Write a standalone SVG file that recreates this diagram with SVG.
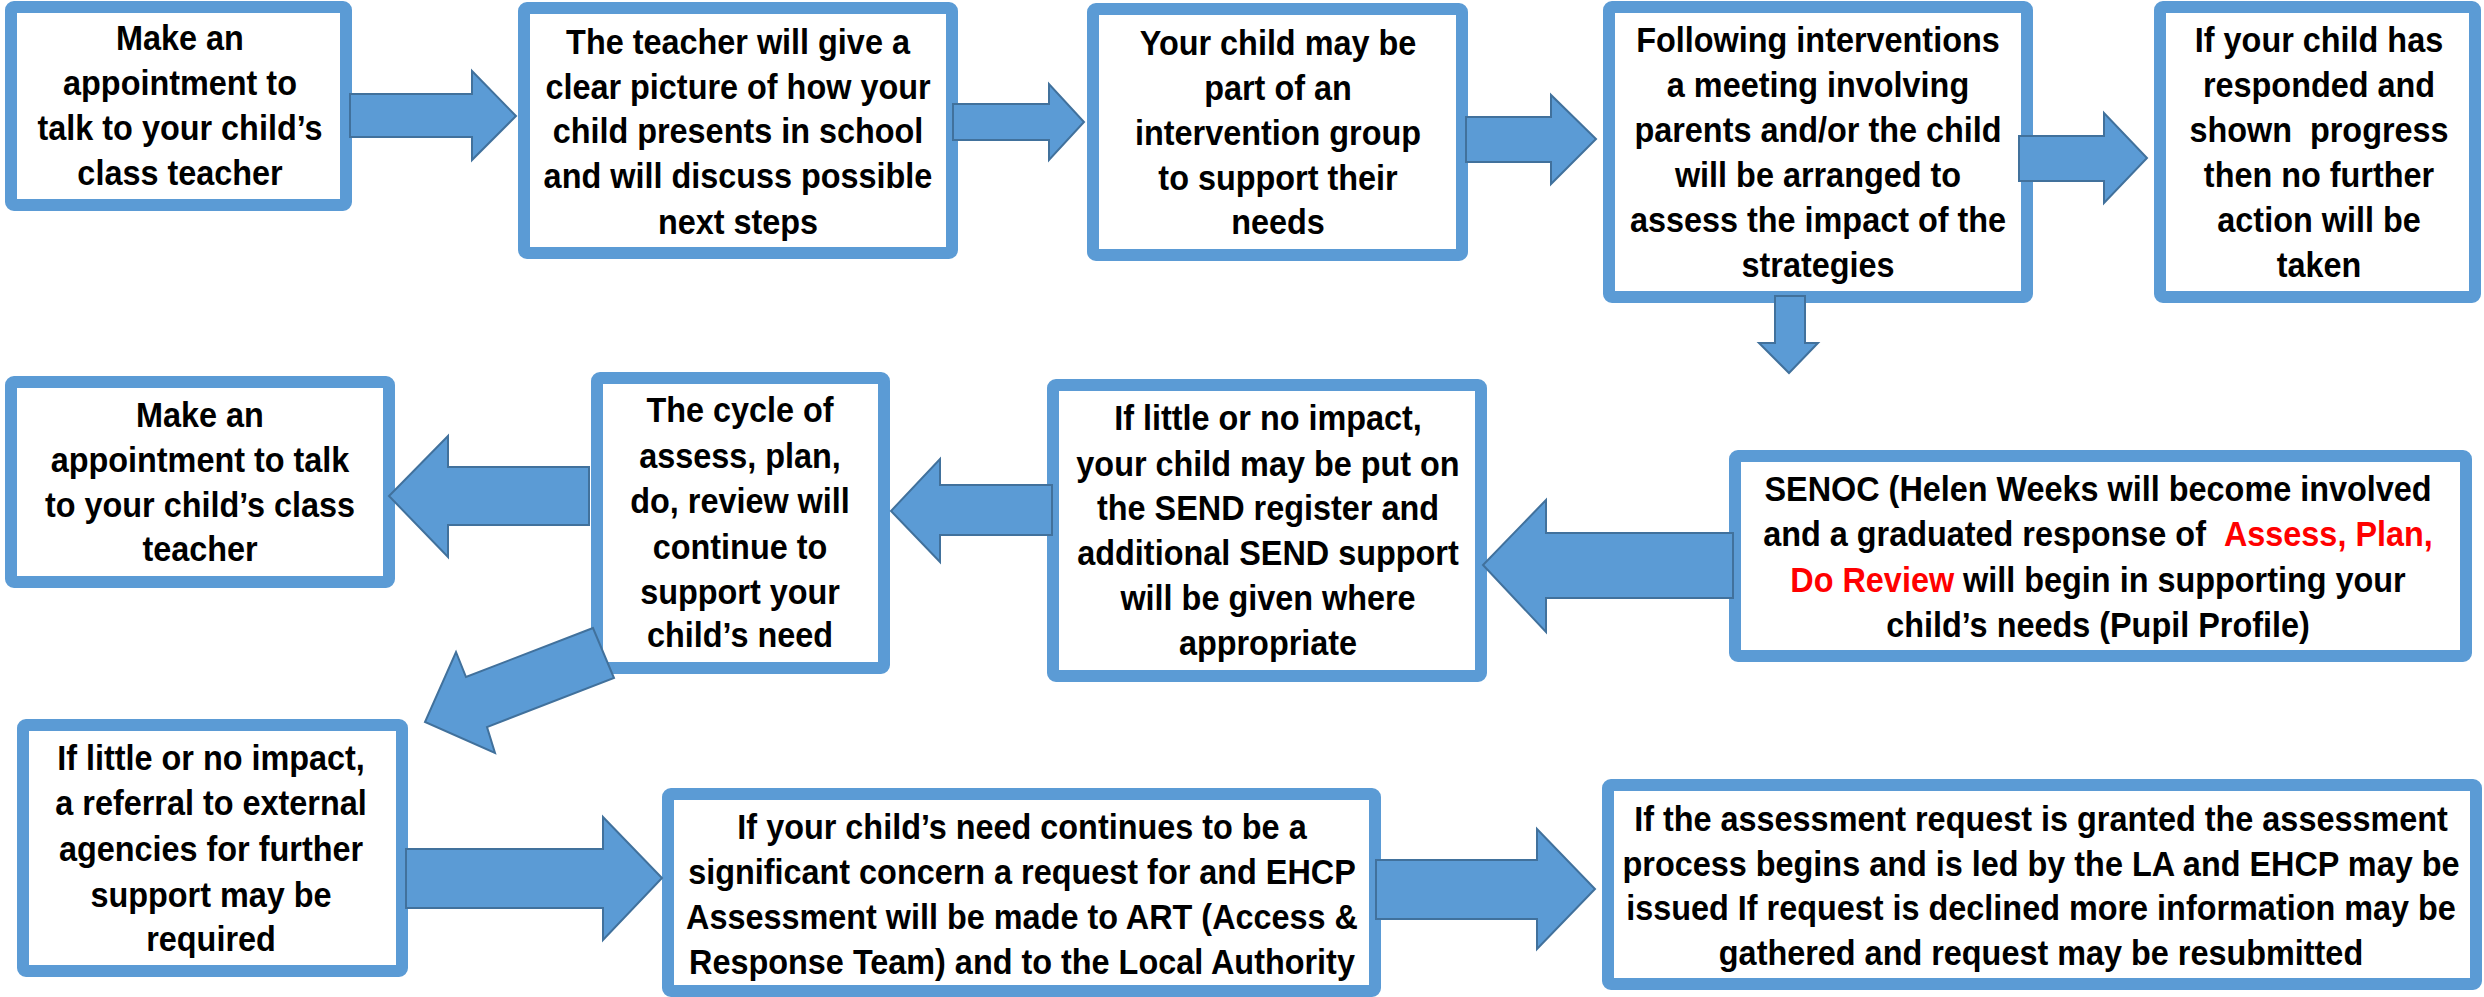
<svg xmlns="http://www.w3.org/2000/svg" width="2484" height="997" viewBox="0 0 2484 997">
<style>
.box{fill:#ffffff;stroke:#5B9BD5;stroke-width:12;}
.arr{fill:#5B9BD5;stroke:#41719C;stroke-width:2;stroke-linejoin:miter;}
.t{font-family:"Liberation Sans",Arial,sans-serif;font-weight:bold;font-size:36px;fill:#000;text-anchor:middle;white-space:pre;}
.red{fill:#FF0000;}
</style>
<rect x="0" y="0" width="2484" height="997" fill="#ffffff"/>
<g id="n1"><rect class="box" x="11" y="7" width="335" height="198" rx="3"/>
<text class="t" transform="translate(180 0) scale(0.9 1)"><tspan x="0" y="50">Make an</tspan><tspan x="0" y="95">appointment to</tspan><tspan x="0" y="140">talk to your child’s</tspan><tspan x="0" y="185">class teacher</tspan></text></g>
<g id="n2"><rect class="box" x="524" y="8" width="428" height="245" rx="3"/>
<text class="t" transform="translate(738 0) scale(0.9 1)"><tspan x="0" y="54">The teacher will give a</tspan><tspan x="0" y="99">clear picture of how your</tspan><tspan x="0" y="143">child presents in school</tspan><tspan x="0" y="188">and will discuss possible</tspan><tspan x="0" y="234">next steps</tspan></text></g>
<g id="n3"><rect class="box" x="1093" y="9" width="369" height="246" rx="3"/>
<text class="t" transform="translate(1278 0) scale(0.9 1)"><tspan x="0" y="55">Your child may be</tspan><tspan x="0" y="100">part of an</tspan><tspan x="0" y="145">intervention group</tspan><tspan x="0" y="190">to support their</tspan><tspan x="0" y="234">needs</tspan></text></g>
<g id="n4"><rect class="box" x="1609" y="7" width="418" height="290" rx="3"/>
<text class="t" transform="translate(1818 0) scale(0.9 1)"><tspan x="0" y="52">Following interventions</tspan><tspan x="0" y="97">a meeting involving</tspan><tspan x="0" y="142">parents and/or the child</tspan><tspan x="0" y="187">will be arranged to</tspan><tspan x="0" y="232">assess the impact of the</tspan><tspan x="0" y="277">strategies</tspan></text></g>
<g id="n5"><rect class="box" x="2160" y="7" width="315" height="290" rx="3"/>
<text class="t" transform="translate(2319 0) scale(0.9 1)"><tspan x="0" y="52">If your child has</tspan><tspan x="0" y="97">responded and</tspan><tspan x="0" y="142">shown  progress</tspan><tspan x="0" y="187">then no further</tspan><tspan x="0" y="232">action will be</tspan><tspan x="0" y="277">taken</tspan></text></g>
<g id="n6"><rect class="box" x="11" y="382" width="378" height="200" rx="3"/>
<text class="t" transform="translate(200 0) scale(0.9 1)"><tspan x="0" y="427">Make an</tspan><tspan x="0" y="472">appointment to talk</tspan><tspan x="0" y="517">to your child’s class</tspan><tspan x="0" y="561">teacher</tspan></text></g>
<g id="n7"><rect class="box" x="597" y="378" width="287" height="290" rx="3"/>
<text class="t" transform="translate(740 0) scale(0.9 1)"><tspan x="0" y="422">The cycle of</tspan><tspan x="0" y="468">assess, plan,</tspan><tspan x="0" y="513">do, review will</tspan><tspan x="0" y="559">continue to</tspan><tspan x="0" y="604">support your</tspan><tspan x="0" y="647">child’s need</tspan></text></g>
<g id="n8"><rect class="box" x="1053" y="385" width="428" height="291" rx="3"/>
<text class="t" transform="translate(1268 0) scale(0.9 1)"><tspan x="0" y="430">If little or no impact,</tspan><tspan x="0" y="476">your child may be put on</tspan><tspan x="0" y="520">the SEND register and</tspan><tspan x="0" y="565">additional SEND support</tspan><tspan x="0" y="610">will be given where</tspan><tspan x="0" y="655">appropriate</tspan></text></g>
<g id="n9"><rect class="box" x="1735" y="456" width="731" height="200" rx="3"/>
<text class="t" transform="translate(2098 0) scale(0.9 1)"><tspan x="0" y="501">SENOC (Helen Weeks will become involved</tspan><tspan x="0" y="546">and a graduated response of  <tspan class="red">Assess, Plan,</tspan></tspan><tspan x="0" y="592"><tspan class="red">Do Review</tspan> will begin in supporting your</tspan><tspan x="0" y="637">child’s needs (Pupil Profile)</tspan></text></g>
<g id="n10"><rect class="box" x="23" y="725" width="379" height="246" rx="3"/>
<text class="t" transform="translate(211 0) scale(0.9 1)"><tspan x="0" y="770">If little or no impact,</tspan><tspan x="0" y="815">a referral to external</tspan><tspan x="0" y="861">agencies for further</tspan><tspan x="0" y="907">support may be</tspan><tspan x="0" y="951">required</tspan></text></g>
<g id="n11"><rect class="box" x="668" y="794" width="707" height="197" rx="3"/>
<text class="t" transform="translate(1022 0) scale(0.9 1)"><tspan x="0" y="839">If your child’s need continues to be a</tspan><tspan x="0" y="884">significant concern a request for and EHCP</tspan><tspan x="0" y="929">Assessment will be made to ART (Access &amp;</tspan><tspan x="0" y="974">Response Team) and to the Local Authority</tspan></text></g>
<g id="n12"><rect class="box" x="1608" y="785" width="868" height="199" rx="3"/>
<text class="t" transform="translate(2041 0) scale(0.9 1)"><tspan x="0" y="831">If the assessment request is granted the assessment</tspan><tspan x="0" y="876">process begins and is led by the LA and EHCP may be</tspan><tspan x="0" y="920">issued If request is declined more information may be</tspan><tspan x="0" y="965">gathered and request may be resubmitted</tspan></text></g>
<g id="connectors">
<polygon class="arr" points="350,94 472,94 472,71 516,116 472,160 472,137 350,137"/>
<polygon class="arr" points="953,104 1049,104 1049,84 1084,122 1049,160 1049,140 953,140"/>
<polygon class="arr" points="1466,117 1551,117 1551,95 1596,139 1551,184 1551,162 1466,162"/>
<polygon class="arr" points="2019,136 2104,136 2104,113 2147,158 2104,203 2104,181 2019,181"/>
<polygon class="arr" points="1775,296 1805,296 1805,343 1818,343 1789,373 1759,343 1775,343"/>
<polygon class="arr" points="589,467 448,467 448,436 389,496 448,557 448,525 589,525"/>
<polygon class="arr" points="1052,485 940,485 940,459 891,511 940,562 940,535 1052,535"/>
<polygon class="arr" points="1733,533 1546,533 1546,500 1483,565 1546,632 1546,598 1733,598"/>
<polygon class="arr" points="593,628 466,677 456,652 425,722 495,753 487,727 614,678"/>
<polygon class="arr" points="406,849 603,849 603,817 662,878 603,940 603,908 406,908"/>
<polygon class="arr" points="1376,860 1537,860 1537,829 1595,889 1537,949 1537,919 1376,919"/>
</g>
</svg>
